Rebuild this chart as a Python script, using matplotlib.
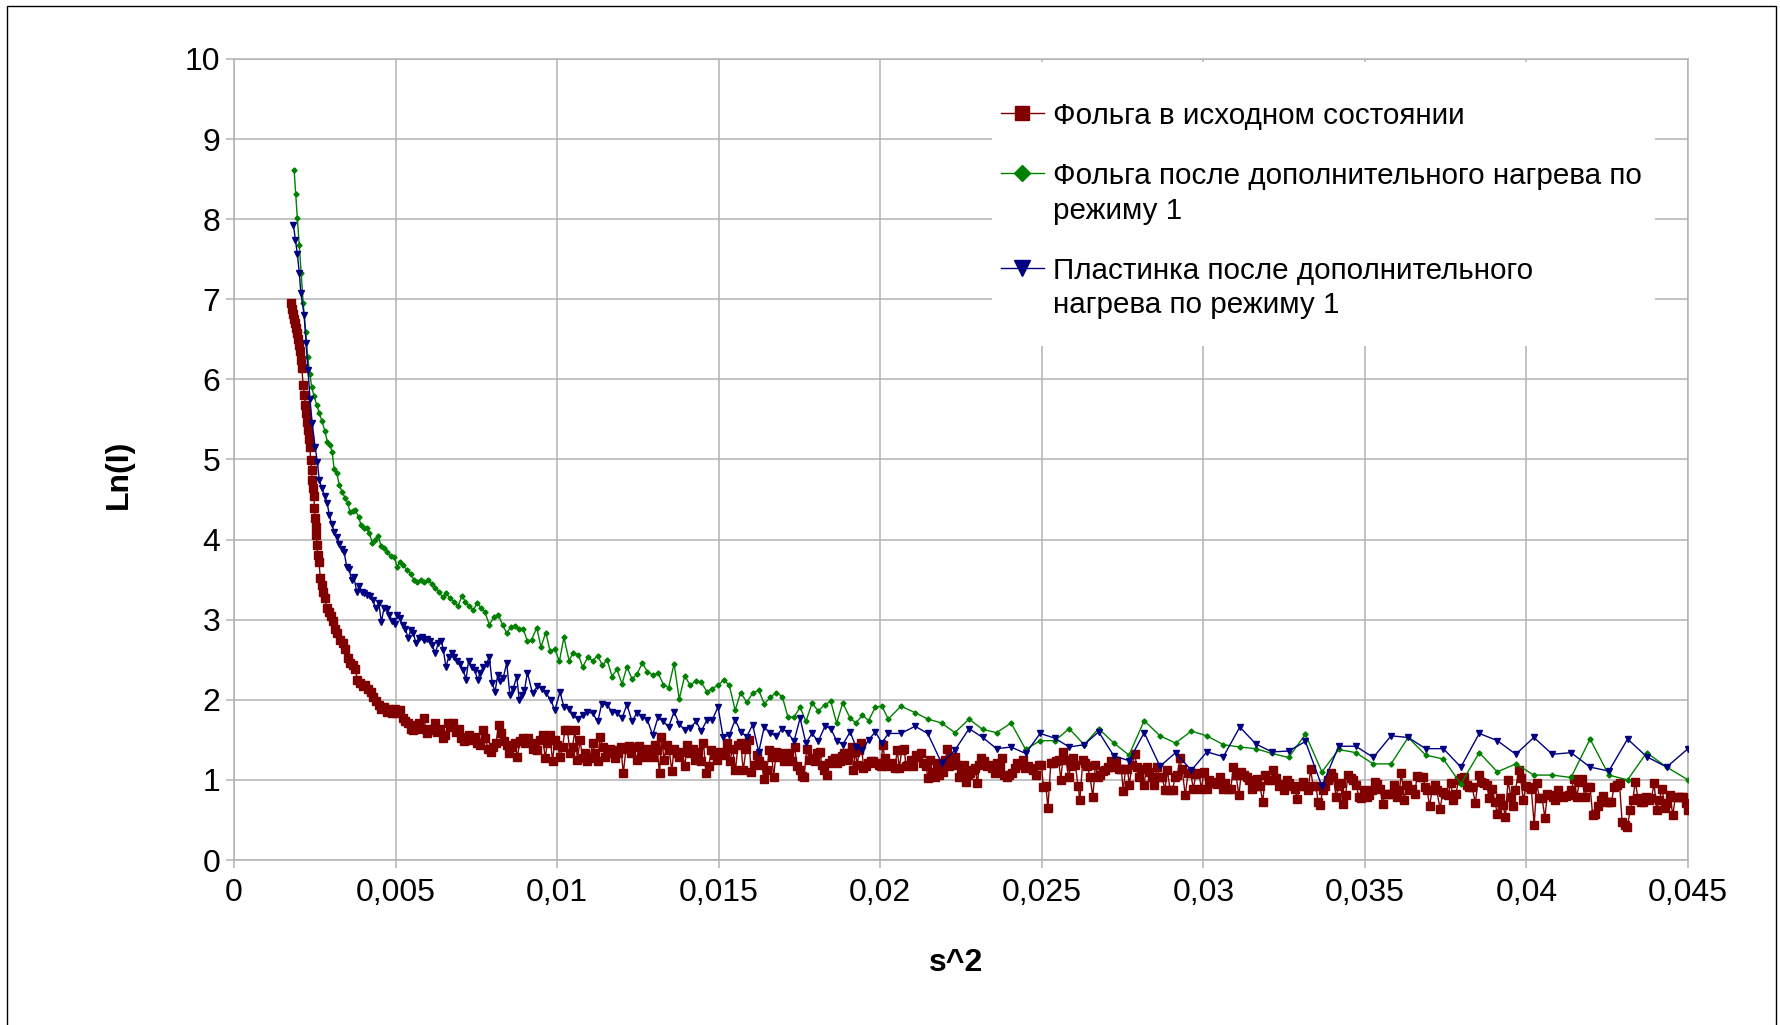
import numpy as np
import matplotlib
matplotlib.use("Agg")
import matplotlib.pyplot as plt
from matplotlib.lines import Line2D
from matplotlib.patches import Rectangle
from matplotlib.legend_handler import HandlerLine2D
from matplotlib.transforms import Affine2D

plt.rcParams['font.family'] = ['Liberation Sans', 'DejaVu Sans']

# s^2 values are written in units of 1e-3
s2_foil_milli = [
    1.76, 1.80, 1.84, 1.87, 1.90, 1.93, 1.96, 1.99, 2.02, 2.04, 2.07, 2.10,
    2.14, 2.18, 2.21, 2.24, 2.27, 2.30, 2.33, 2.35, 2.37, 2.40, 2.42, 2.45, 2.47, 2.49, 2.51, 2.53,
    2.55, 2.57, 2.59, 2.63, 2.67, 2.72, 2.76, 2.82, 2.87, 2.93, 2.99, 3.05, 3.13, 3.20, 3.28, 3.36,
    3.44, 3.53, 3.59, 3.67, 3.75, 3.82, 3.90, 3.98, 4.06, 4.15, 4.23, 4.31, 4.39, 4.48, 4.56, 4.64,
    4.73, 4.81, 4.89, 4.97, 5.05, 5.14, 5.22, 5.30, 5.39, 5.47, 5.55, 5.63, 5.72, 5.80, 5.88, 5.96,
    6.04, 6.13, 6.21, 6.29, 6.38, 6.46, 6.54, 6.62, 6.71, 6.79, 6.87, 6.95, 7.03, 7.12, 7.20, 7.28,
    7.37, 7.45, 7.53, 7.61, 7.70, 7.78, 7.86, 7.94, 8.03, 8.11, 8.19, 8.27, 8.36, 8.44, 8.52, 8.60,
    8.69, 8.77, 8.85, 8.94, 9.02, 9.10,
    9.24, 9.32, 9.39, 9.47, 9.55, 9.63, 9.70, 9.78, 9.86, 9.93, 10.01, 10.09, 10.17, 10.24, 10.32,
    10.40, 10.48, 10.55, 10.63, 10.71, 10.79, 10.86, 10.93, 11.02, 11.10, 11.17, 11.26, 11.33, 11.41,
    11.48, 11.57, 11.64, 11.72, 11.80, 11.88, 11.97, 12.05, 12.13, 12.22, 12.30, 12.38, 12.46, 12.54,
    12.63, 12.71, 12.79, 12.88, 12.96, 13.04, 13.10, 13.17, 13.23, 13.31, 13.39, 13.47, 13.55, 13.62,
    13.70, 13.78, 13.87, 13.95, 14.03, 14.11, 14.20, 14.28, 14.36, 14.44, 14.53, 14.61, 14.69, 14.77,
    14.86, 14.94, 15.02, 15.10, 15.19, 15.27, 15.35, 15.43, 15.52, 15.60, 15.68, 15.76, 15.85, 15.93,
    16.01, 16.09, 16.18, 16.26, 16.34, 16.40, 16.49, 16.57, 16.65, 16.70, 16.78, 16.86, 16.94, 17.02,
    17.11, 17.19, 17.27, 17.35, 17.43, 17.52, 17.58, 17.64, 17.73, 17.81, 17.89, 17.97, 18.05,
    18.14, 18.19, 18.26, 18.34, 18.42, 18.51, 18.59, 18.67, 18.76, 18.82, 18.88, 18.96, 19.04, 19.12,
    19.17, 19.23, 19.29, 19.35, 19.42, 19.48, 19.55, 19.63, 19.71, 19.79, 19.87, 19.95, 20.02, 20.08,
    20.14, 20.20, 20.28, 20.37, 20.45, 20.53, 20.59, 20.67, 20.74, 20.80, 20.86, 20.94, 21.02, 21.11,
    21.18, 21.25, 21.33, 21.42, 21.48, 21.54, 21.62, 21.69, 21.75, 21.83, 21.89, 21.95, 22.01, 22.08,
    22.14, 22.20, 22.26, 22.32, 22.39, 22.45, 22.51, 22.59, 22.66, 22.72, 22.78, 22.86, 22.94, 23.01,
    23.07, 23.13, 23.21, 23.30, 23.38, 23.46, 23.54, 23.62, 23.71, 23.77, 23.83, 23.92, 24.00, 24.08,
    24.16, 24.24, 24.33, 24.41, 24.49, 24.57, 24.66, 24.74, 24.82, 24.91, 24.99, 25.05, 25.13, 25.19,
    25.28, 25.36, 25.44, 25.52, 25.59, 25.67, 25.75, 25.83, 25.90, 25.98, 26.04, 26.12, 26.18, 26.27,
    26.35, 26.41, 26.49, 26.58, 26.66, 26.74,
    26.80, 26.89, 26.97, 27.05, 27.13, 27.21, 27.30, 27.38, 27.46, 27.52, 27.59, 27.65, 27.71, 27.79,
    27.88, 27.94, 28.00, 28.08, 28.16, 28.25, 28.33, 28.41, 28.47, 28.56, 28.64, 28.72, 28.81, 28.89,
    28.97, 29.05, 29.13, 29.20, 29.27, 29.34, 29.44, 29.53, 29.61, 29.69, 29.77, 29.86, 29.94, 30.02,
    30.11, 30.19, 30.27, 30.35, 30.43, 30.52, 30.60, 30.68, 30.76, 30.85, 30.93, 31.01, 31.10, 31.18,
    31.26, 31.34, 31.42, 31.51, 31.59, 31.67, 31.75, 31.84, 31.92, 32.00, 32.09, 32.17, 32.25, 32.33,
    32.41, 32.50, 32.58, 32.66, 32.75, 32.83, 32.91, 32.99, 33.08, 33.16, 33.24, 33.32, 33.40, 33.49,
    33.55, 33.61, 33.70, 33.78, 33.86, 33.94, 34.02, 34.11, 34.19, 34.25, 34.31, 34.40, 34.48, 34.56,
    34.64, 34.73, 34.81, 34.89, 34.97, 35.06, 35.14, 35.22, 35.30, 35.39, 35.47, 35.55, 35.63, 35.72,
    35.83, 35.90, 35.99, 36.07, 36.13, 36.21, 36.30, 36.38, 36.46, 36.54, 36.62, 36.71, 36.79, 36.87,
    36.93, 37.00, 37.08, 37.16, 37.22, 37.33, 37.41, 37.49, 37.57, 37.66, 37.74, 37.82, 37.90, 37.99,
    38.07, 38.15, 38.23, 38.32, 38.42, 38.52, 38.60, 38.69, 38.77, 38.85, 38.94, 39.02, 39.10, 39.18,
    39.27, 39.35, 39.43, 39.51, 39.58, 39.66, 39.76, 39.82, 39.90, 39.99, 40.07, 40.15, 40.24, 40.32,
    40.40, 40.48, 40.57, 40.65, 40.73, 40.81, 40.89, 40.98, 41.06, 41.14, 41.23, 41.31, 41.39, 41.47,
    41.56, 41.64, 41.72, 41.80, 41.89, 41.97, 42.05, 42.13, 42.22, 42.30, 42.38, 42.46, 42.55, 42.63,
    42.71, 42.79, 42.88, 42.96, 43.04, 43.12, 43.21, 43.29, 43.37, 43.45, 43.54, 43.62, 43.70, 43.78,
    43.87, 43.95, 44.03, 44.11, 44.20, 44.28, 44.36, 44.44, 44.53, 44.61, 44.69, 44.78, 44.86, 44.94,
    45.00,
]
ln_foil = [
    6.96, 6.88, 6.82, 6.76, 6.70, 6.64, 6.58, 6.50, 6.43, 6.35, 6.24, 6.14,
    5.93, 5.81, 5.68, 5.58, 5.47, 5.37, 5.26, 5.16, 4.99, 4.87, 4.74, 4.64, 4.54, 4.39, 4.27, 4.16,
    4.06, 3.93, 3.81, 3.72, 3.52, 3.43, 3.35, 3.27, 3.14, 3.10, 3.04, 2.98, 2.89, 2.83, 2.75, 2.71,
    2.64, 2.52, 2.46, 2.43, 2.39, 2.25, 2.21, 2.17, 2.18, 2.14, 2.10, 2.04, 1.98, 1.94, 1.89, 1.91,
    1.85, 1.89, 1.83, 1.89, 1.83, 1.87, 1.77, 1.73, 1.71, 1.64, 1.62, 1.69, 1.71, 1.64, 1.77, 1.58,
    1.64, 1.62, 1.71, 1.60, 1.64, 1.52, 1.56, 1.71, 1.66, 1.71, 1.60, 1.64, 1.52, 1.48, 1.54, 1.56,
    1.50, 1.54, 1.46, 1.44, 1.62, 1.52, 1.39, 1.35, 1.41, 1.46, 1.69, 1.58, 1.48, 1.44, 1.33, 1.41,
    1.46, 1.29, 1.48, 1.52, 1.46, 1.52,
    1.39, 1.46, 1.37, 1.50, 1.56, 1.27, 1.46, 1.56, 1.23, 1.50, 1.44, 1.29, 1.41, 1.62, 1.62,
    1.33, 1.41, 1.62, 1.25, 1.50, 1.27, 1.33, 1.23, 1.27, 1.46, 1.33, 1.23, 1.54, 1.41,
    1.29, 1.33, 1.39, 1.37, 1.27, 1.33, 1.41, 1.08, 1.39, 1.42, 1.33, 1.41, 1.25, 1.42,
    1.35, 1.29, 1.39, 1.37, 1.29, 1.44, 1.37, 1.08, 1.54, 1.25, 1.44, 1.37, 1.11, 1.39,
    1.33, 1.29, 1.35, 1.17, 1.44, 1.33, 1.39, 1.25, 1.35, 1.23, 1.46, 1.09, 1.17, 1.37,
    1.31, 1.25, 1.35, 1.31, 1.35, 1.46, 1.23, 1.39, 1.12, 1.44, 1.46, 1.12, 1.39, 1.50,
    1.10, 1.19, 1.31, 1.23, 1.19, 1.01, 1.12, 1.37, 1.29, 1.03, 1.35, 1.29, 1.34, 1.23,
    1.31, 1.33, 1.23, 1.41, 1.17, 1.12, 1.05, 1.04, 1.39, 1.25, 1.27, 1.23, 1.33,
    1.35, 1.19, 1.12, 1.06, 1.21, 1.25, 1.27, 1.21, 1.23, 1.30, 1.33, 1.25, 1.33, 1.41,
    1.12, 1.35, 1.19, 1.37, 1.46, 1.15, 1.17, 1.21, 1.23, 1.23, 1.21, 1.19, 1.17, 1.44,
    1.27, 1.17, 1.19, 1.21, 1.15, 1.37, 1.15, 1.37, 1.39, 1.17, 1.19, 1.25, 1.17, 1.31,
    1.29, 1.33, 1.21, 1.17, 1.02, 1.25, 1.10, 1.04, 1.21, 1.06, 1.12, 1.10, 1.25, 1.39,
    1.17, 1.29, 1.27, 1.29, 1.19, 1.04, 1.15, 1.19, 0.98, 1.06, 1.08, 1.12, 1.15, 0.96,
    1.19, 1.27, 1.23, 1.17, 1.19, 1.15, 1.08, 1.21, 1.17, 1.27, 1.06, 1.04, 1.06, 1.08,
    1.15, 1.21, 1.19, 1.25, 1.15, 1.17, 1.15, 1.12, 1.06, 1.19, 1.19, 0.91, 0.92, 0.65,
    1.21, 1.21, 1.23, 1.25, 1.00, 1.35, 1.25, 1.04, 1.17, 1.27, 1.19, 0.93, 0.75, 1.25,
    1.21, 1.17, 1.04, 0.79, 1.19, 1.04,
    1.06, 1.11, 1.12, 1.16, 1.24, 1.16, 1.23, 1.13, 1.14, 0.86, 1.13, 1.14, 0.94, 1.19,
    1.32, 1.16, 1.04, 1.14, 0.94, 1.16, 1.10, 1.04, 0.94, 1.16, 1.04, 1.04, 0.88, 1.12,
    0.87, 0.88, 1.04, 1.06, 1.27, 1.14, 0.81, 1.09, 1.08, 0.89, 1.07, 1.09, 0.89, 1.10,
    0.89, 1.00, 0.98, 0.96, 0.95, 1.04, 0.89, 0.96, 0.89, 0.89, 1.16, 1.06, 0.81, 1.10,
    1.06, 1.04, 1.00, 0.89, 0.92, 1.01, 0.92, 0.73, 1.06, 1.00, 1.00, 1.12, 1.02, 0.92,
    0.95, 0.87, 1.00, 0.96, 0.92, 0.89, 0.76, 0.92, 0.98, 0.92, 0.87, 1.13, 0.92, 0.92,
    0.73, 0.69, 0.88, 0.92, 1.00, 1.09, 1.04, 0.79, 0.92, 0.96, 0.70, 0.81, 1.06, 1.02,
    1.00, 0.94, 0.79, 0.77, 0.87, 0.79, 0.81, 0.87, 0.98, 0.95, 0.89, 0.70, 0.83, 0.83,
    0.83, 0.94, 0.79, 0.87, 1.09, 0.75, 0.94, 0.87, 0.89, 0.83, 1.05, 1.03, 1.04, 0.91,
    0.87, 0.67, 0.87, 0.94, 0.87, 0.64, 0.85, 0.82, 0.81, 0.96, 0.75, 0.83, 1.00, 1.02,
    1.03, 0.94, 0.91, 0.91, 0.71, 1.06, 0.98, 0.96, 0.94, 0.77, 0.89, 0.73, 0.58, 0.77,
    0.69, 0.54, 1.00, 0.79, 0.67, 0.87, 1.12, 1.02, 0.75, 0.92, 0.91, 0.89, 0.44, 0.96,
    0.77, 0.78, 0.53, 0.83, 0.81, 0.79, 0.75, 0.87, 0.80, 0.79, 0.80, 0.81, 0.87, 1.01,
    0.79, 0.98, 1.01, 0.79, 0.91, 0.91, 0.56, 0.57, 0.68, 0.75, 0.80, 0.73, 0.73, 0.72,
    0.91, 0.94, 0.96, 0.48, 0.44, 0.41, 0.62, 0.75, 0.98, 0.77, 0.73, 0.73, 0.79, 0.75,
    0.77, 0.96, 0.62, 0.75, 0.89, 0.65, 0.71, 0.81, 0.56, 0.79, 0.79, 0.79, 0.79, 0.71,
    0.62,
]

s2_heat_milli = [
    1.86, 1.91, 1.96, 2.02, 2.08, 2.14, 2.22, 2.28, 2.35,
    2.40, 2.48, 2.56, 2.64, 2.72, 2.81, 2.89, 2.97, 3.04, 3.10, 3.18, 3.26, 3.34, 3.44, 3.52, 3.59,
    3.67, 3.75, 3.86, 3.93, 4.02, 4.11, 4.19, 4.28, 4.36, 4.47, 4.55, 4.64, 4.74, 4.85, 4.96, 5.05,
    5.14, 5.24, 5.36, 5.47, 5.57, 5.67, 5.78, 5.88, 6.01, 6.13, 6.23, 6.34, 6.46, 6.56, 6.69, 6.81,
    6.93, 7.06, 7.16, 7.28, 7.41, 7.53, 7.64, 7.76, 7.90, 8.05, 8.18, 8.32, 8.44, 8.57, 8.70, 8.83,
    8.95, 9.08, 9.21, 9.37, 9.50, 9.65, 9.78, 9.93, 10.07, 10.21, 10.37, 10.50, 10.66, 10.79, 10.95,
    11.10, 11.26, 11.40, 11.55, 11.70, 11.85, 12.01, 12.16, 12.32, 12.47, 12.64, 12.79, 12.96, 13.13,
    13.29, 13.45, 13.62, 13.78, 13.95, 14.12, 14.30, 14.46, 14.64, 14.80, 14.98, 15.16, 15.33, 15.51,
    15.68, 15.87, 16.05, 16.24, 16.41, 16.60, 16.78, 16.97, 17.14, 17.33, 17.52, 17.70, 17.89, 18.08,
    18.29, 18.47, 18.65, 18.84, 19.07, 19.25, 19.45, 19.64, 19.85, 20.05, 20.25,
    20.64, 21.08, 21.47, 21.90, 22.31, 22.75, 23.17, 23.60, 24.05, 24.50, 24.95, 25.41, 25.85, 26.31,
    26.76, 27.23, 27.70, 28.17, 28.66, 29.14, 29.63, 30.11, 30.62, 31.13, 31.62, 32.12, 32.64, 33.16,
    33.67, 34.19, 34.72, 35.26, 35.81, 36.34, 36.88, 37.43, 37.97, 38.54, 39.10, 39.67, 40.23, 40.80,
    41.38, 41.97, 42.55, 43.13, 43.72, 44.34, 45.00,
]
ln_heat = [
    8.62, 8.31, 8.01, 7.68, 7.33, 6.96, 6.59, 6.28, 6.07,
    5.91, 5.79, 5.68, 5.58, 5.48, 5.36, 5.22, 5.18, 5.09, 4.88, 4.83, 4.68, 4.60, 4.52, 4.46, 4.34,
    4.36, 4.37, 4.28, 4.18, 4.14, 4.15, 4.08, 3.96, 4.00, 4.04, 3.92, 3.90, 3.85, 3.80, 3.78, 3.66,
    3.72, 3.68, 3.62, 3.57, 3.50, 3.47, 3.50, 3.47, 3.49, 3.45, 3.40, 3.35, 3.28, 3.33, 3.27, 3.22,
    3.17, 3.30, 3.22, 3.17, 3.12, 3.21, 3.15, 3.10, 2.94, 3.03, 3.06, 2.93, 2.83, 2.91, 2.92, 2.88,
    2.89, 2.73, 2.75, 2.90, 2.66, 2.84, 2.61, 2.63, 2.48, 2.78, 2.49, 2.59, 2.56, 2.41, 2.53,
    2.49, 2.55, 2.43, 2.50, 2.29, 2.38, 2.20, 2.41, 2.26, 2.32, 2.46, 2.35, 2.31, 2.33,
    2.19, 2.15, 2.45, 2.01, 2.30, 2.18, 2.24, 2.22, 2.10, 2.14, 2.18, 2.25, 2.18, 1.87,
    2.09, 1.97, 2.08, 2.12, 1.95, 2.03, 2.09, 2.04, 1.79, 1.78, 1.91, 1.73, 1.96, 1.86,
    1.94, 1.98, 1.71, 1.96, 1.77, 1.71, 1.81, 1.74, 1.91, 1.92, 1.76,
    1.92, 1.84, 1.76, 1.71, 1.59, 1.76, 1.63, 1.59, 1.71, 1.38, 1.49, 1.49, 1.64, 1.44,
    1.64, 1.46, 1.31, 1.74, 1.55, 1.46, 1.61, 1.55, 1.44, 1.41, 1.39, 1.33, 1.28, 1.57,
    1.10, 1.38, 1.34, 1.20, 1.20, 1.53, 1.31, 1.26, 0.95, 1.34, 1.10, 1.20, 1.06, 1.06,
    1.03, 1.51, 1.06, 1.00, 1.34, 1.16, 1.00,
]

s2_plate_milli = [
    1.84, 1.90, 1.96, 2.02, 2.07, 2.17, 2.23, 2.29, 2.35,
    2.42, 2.51, 2.58, 2.64, 2.72, 2.81, 2.88, 2.95, 3.02, 3.10, 3.18, 3.26, 3.34, 3.41, 3.49, 3.56,
    3.64, 3.71, 3.80, 3.88, 3.95, 4.03, 4.13, 4.21, 4.29, 4.39, 4.48, 4.56, 4.64, 4.73, 4.81, 4.89,
    4.98, 5.05, 5.14, 5.22, 5.30, 5.39, 5.47, 5.55, 5.63, 5.72, 5.81, 5.89, 5.97, 6.06, 6.14, 6.23,
    6.32, 6.42, 6.48, 6.56, 6.65, 6.74, 6.82, 6.91, 7.00, 7.10, 7.18, 7.26, 7.36, 7.45, 7.54, 7.61,
    7.72, 7.82, 7.90, 7.99, 8.08, 8.16, 8.24, 8.33, 8.44, 8.54, 8.64, 8.75, 8.83, 8.90, 8.99, 9.08,
    9.24, 9.39, 9.52, 9.66, 9.80, 9.93, 10.09, 10.21, 10.37, 10.50, 10.64, 10.79, 10.93, 11.10,
    11.26, 11.38, 11.54, 11.70, 11.85, 12.01, 12.16, 12.32, 12.47, 12.64, 12.79, 12.96, 13.12, 13.29,
    13.45, 13.62, 13.78, 13.95, 14.12, 14.30, 14.46, 14.64, 14.80, 14.98, 15.14, 15.33, 15.51, 15.68,
    15.87, 16.05, 16.24, 16.41, 16.60, 16.78, 16.97, 17.14, 17.33, 17.52, 17.70, 17.89, 18.08,
    18.29, 18.47, 18.65, 18.84, 19.07, 19.25, 19.45, 19.64, 19.85, 20.05, 20.25,
    20.64, 21.08, 21.47, 21.90, 22.31, 22.75, 23.17, 23.60, 24.05, 24.50, 24.95, 25.41, 25.85, 26.31,
    26.76, 27.23, 27.70, 28.17, 28.66, 29.14, 29.63, 30.11, 30.62, 31.13, 31.62, 32.12, 32.64, 33.16,
    33.67, 34.19, 34.72, 35.26, 35.81, 36.34, 36.88, 37.43, 37.97, 38.54, 39.10, 39.67, 40.23, 40.80,
    41.38, 41.97, 42.55, 43.13, 43.72, 44.34, 45.00,
]
ln_plate = [
    7.93, 7.74, 7.57, 7.33, 7.08, 6.80, 6.46, 6.12, 5.76,
    5.45, 5.16, 4.97, 4.74, 4.64, 4.54, 4.46, 4.31, 4.20, 4.10, 4.03, 3.95, 3.88, 3.84, 3.66, 3.63,
    3.50, 3.53, 3.35, 3.42, 3.35, 3.33, 3.31, 3.29, 3.25, 3.14, 3.21, 2.97, 3.14, 3.13, 3.06, 2.98,
    2.95, 3.06, 3.02, 2.93, 2.89, 2.77, 2.87, 2.83, 2.71, 2.77, 2.79, 2.75, 2.76, 2.73, 2.68, 2.58,
    2.71, 2.73, 2.62, 2.41, 2.54, 2.58, 2.54, 2.48, 2.45, 2.37, 2.25, 2.49, 2.41, 2.37, 2.25, 2.33,
    2.41, 2.45, 2.54, 2.21, 2.10, 2.31, 2.23, 2.27, 2.46, 2.06, 2.14, 2.29, 2.00, 2.06, 2.12, 2.34,
    2.08, 2.17, 2.14, 2.08, 2.00, 1.87, 2.10, 1.91, 1.89, 1.81, 1.76, 1.81, 1.85, 1.83,
    1.73, 1.95, 1.94, 1.85, 1.84, 1.77, 1.94, 1.73, 1.84, 1.79, 1.75, 1.56, 1.78, 1.73,
    1.66, 1.85, 1.70, 1.62, 1.65, 1.73, 1.61, 1.75, 1.75, 1.91, 1.53, 1.56, 1.75, 1.60,
    1.54, 1.69, 1.35, 1.66, 1.58, 1.55, 1.64, 1.59, 1.48, 1.77, 1.46, 1.58, 1.48,
    1.67, 1.64, 1.49, 1.44, 1.60, 1.41, 1.37, 1.50, 1.60, 1.46, 1.58,
    1.58, 1.67, 1.58, 1.21, 1.37, 1.64, 1.53, 1.39, 1.41, 1.33, 1.58, 1.52, 1.41, 1.44,
    1.60, 1.30, 1.24, 1.59, 1.17, 1.34, 1.12, 1.35, 1.29, 1.66, 1.45, 1.35, 1.36, 1.48,
    0.92, 1.42, 1.42, 1.28, 1.55, 1.53, 1.39, 1.39, 1.16, 1.58, 1.49, 1.32, 1.53, 1.32,
    1.34, 1.16, 1.11, 1.51, 1.29, 1.16, 1.39,
]

series_labels = [
    "Фольга в исходном состоянии",
    "Фольга после дополнительного нагрева по\nрежиму 1",
    "Пластинка после дополнительного\nнагрева по режиму 1",
]

x_ticks = [0, 0.005, 0.01, 0.015, 0.02, 0.025, 0.03, 0.035, 0.04, 0.045]
x_tick_labels = ["0", "0,005", "0,01", "0,015", "0,02", "0,025", "0,03", "0,035", "0,04", "0,045"]
y_ticks = [0, 1, 2, 3, 4, 5, 6, 7, 8, 9, 10]

red = "#800000"
green = "#008000"
blue = "#000080"
grid_color = "#b3b3b3"


class FirstLineHandler(HandlerLine2D):
    # put the legend symbol next to the first line of a two-line label
    def __init__(self, lift=0.0, **kw):
        super().__init__(**kw)
        self.lift = lift

    def create_artists(self, legend, orig_handle, xdescent, ydescent,
                       width, height, fontsize, trans):
        trans = Affine2D().translate(0, self.lift) + trans
        return super().create_artists(legend, orig_handle, xdescent, ydescent,
                                      width, height, fontsize, trans)


fig = plt.figure(figsize=(17.81, 10.25), dpi=100)
ax = fig.add_axes([234 / 1781, 165 / 1025, 1454 / 1781, 801 / 1025])

ax.plot(np.array(s2_foil_milli) / 1000, ln_foil, color=red, lw=1.0,
        marker="s", ms=5.4, mec=red, mfc=red, zorder=3)
ax.plot(np.array(s2_heat_milli) / 1000, ln_heat, color=green, lw=1.0,
        marker="D", ms=2.6, mec=green, mfc=green, zorder=4)
ax.plot(np.array(s2_plate_milli) / 1000, ln_plate, color=blue, lw=1.0,
        marker="v", ms=4.0, mec=blue, mfc=blue, zorder=5)

ax.set_xlim(0, 0.045)
ax.set_ylim(0, 10)
ax.set_xticks(x_ticks)
ax.set_xticklabels(x_tick_labels)
ax.set_yticks(y_ticks)

ax.grid(True, color=grid_color, lw=1.1)
ax.set_axisbelow(True)
for sp in ax.spines.values():
    sp.set_color(grid_color)
    sp.set_linewidth(1.1)
ax.tick_params(direction="out", length=5.8, width=1.1, color=grid_color,
               labelsize=23, labelcolor="black")
ax.tick_params(axis="x", pad=7)
ax.tick_params(axis="y", pad=4)

# white background of the legend area
ax.add_patch(Rectangle((0.5213, 0.6417), 0.456, 0.3546, transform=ax.transAxes,
                       facecolor="white", edgecolor="none", zorder=1))

handles = [
    Line2D([], [], color=red, lw=1.0, marker="s", ms=10, mec=red, mfc=red),
    Line2D([], [], color=green, lw=1.0, marker="D", ms=8.0, mec=green, mfc=green),
    Line2D([], [], color=blue, lw=1.0, marker="v", ms=11.5, mec=blue, mfc=blue),
]
leg = ax.legend(handles, series_labels, loc="upper left", bbox_to_anchor=(0.5275, 0.9468),
                frameon=False, fontsize=21.3, handlelength=1.45, handletextpad=0.3,
                labelspacing=1.1, borderpad=0, borderaxespad=0,
                handler_map={handles[1]: FirstLineHandler(lift=14.8),
                             handles[2]: FirstLineHandler(lift=14.8)})
for t in leg.get_texts():
    t.set_linespacing(1.29)

fig.text(956 / 1781, 1 - 963 / 1025, "s^2", fontsize=23, fontweight="bold",
         ha="center", va="center")
fig.text(119 / 1781, 1 - 474 / 1025, "Ln(I)", fontsize=23, fontweight="bold",
         rotation=90, ha="center", va="center")

fig.patches.append(Rectangle((7 / 1781, -0.01), 1769 / 1781, 1.01 - 6 / 1025,
                             transform=fig.transFigure, fill=False,
                             edgecolor="black", lw=1.0))

fig.savefig("out.png", dpi=100, facecolor="white")
